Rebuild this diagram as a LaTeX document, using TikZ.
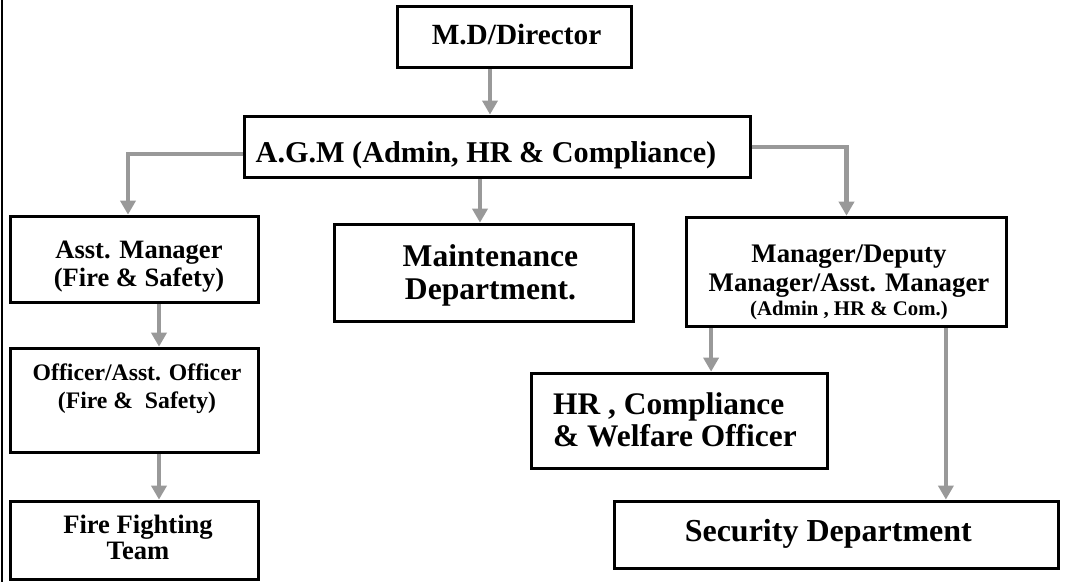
\documentclass[tikz,border=0pt]{standalone}
\usepackage{fontspec}
\usepackage{graphicx}
\setmainfont{Liberation Serif}
\usetikzlibrary{arrows.meta,calc}
\newcommand\txc[4]{\scalebox{1}[#3]{\fontsize{#1bp}{#2bp}\selectfont\bfseries\lineskiplimit=-100bp\vbox{\halign{\hfil##\hfil\cr#4\crcr}}}}
\newcommand\txl[4]{\scalebox{1}[#3]{\fontsize{#1bp}{#2bp}\selectfont\bfseries\lineskiplimit=-100bp\vbox{\halign{##\hfil\cr#4\crcr}}}}
\begin{document}
\begin{tikzpicture}[x=1bp,y=-1bp,
  box/.style={draw=black,line width=3bp,inner sep=0pt},
  lbl/.style={inner sep=0pt,anchor=base},
  arr/.style={draw=black!40,line width=4.5bp,-{Triangle[width=15bp,length=14bp]}}]
\useasboundingbox (0,0) rectangle (1074,582);
\draw[line width=2bp] (2,0) coordinate (bt) -- (2,582) coordinate (bb);
\newcommand\bx[5]{\node[box,minimum width=#4-#2,minimum height=#5-#3] (#1) at ({(#2+#4)/2},{(#3+#5)/2}) {};}
\bx{md}{397}{6}{632}{68}
\bx{agm}{244}{116}{751}{178}
\bx{asst}{10}{216}{259}{303}
\bx{off}{10}{348}{259}{453}
\bx{ff}{10}{501}{259}{580}
\bx{mnt}{334}{224}{634}{322}
\bx{mgr}{686}{217}{1007}{327}
\bx{hr}{531}{373}{828}{469}
\bx{sec}{614}{501}{1059}{569}
\node[lbl] (tmd) at (516.5,44.3) {\txc{29.3}{32}{1}{M.D/Director}};
\node[lbl] (tagm) at (486,163) {\txc{30.2}{33}{1}{A.G.M (Admin, HR \& Compliance)}};
\node[lbl] (tasst) at (139,286.7) {\txc{26.5}{28.3}{1}{Asst. Manager\cr(Fire \& Safety)}};
\node[lbl] (toff) at (137,408.3) {\txc{23.7}{28}{1}{Officer/Asst. Officer\cr(Fire \&\ \ Safety)}};
\node[lbl] (tff) at (138,559) {\txc{26.6}{26}{1}{Fire Fighting\cr Team}};
\node[lbl] (tmnt) at (490.5,300) {\txc{31.6}{33}{1}{Maintenance\cr Department.}};
\node[lbl] (tmgr) at (849,316) {\txc{26.8}{29}{1}{Manager/Deputy\cr Manager/Asst. Manager\cr\noalign{\vskip-5bp}{\fontsize{20.8bp}{24bp}\selectfont(Admin , HR \& Com.)}}};
\node[lbl,anchor=base west] (thr) at (553,446.3) {\txl{31.4}{31.7}{1}{HR , Compliance\cr\& Welfare Officer}};
\node[lbl] (tsec) at (828.3,541.7) {\txc{32}{34}{1}{Security Department}};
\draw[arr] ([xshift=-24.5bp]md.south) -- ([xshift=-24.5bp]md.south |- agm.north);
\draw[arr] ([yshift=-7bp]agm.west) -| ([xshift=-6.5bp]asst.north);
\draw[arr] (agm.east) -| (mgr.north);
\draw[arr] ([xshift=-4bp]mnt.north |- agm.south) -- ([xshift=-4bp]mnt.north);
\draw[arr] ([xshift=24.5bp]asst.south) -- ([xshift=24.5bp]off.north);
\draw[arr] ([xshift=24.5bp]off.south) -- ([xshift=24.5bp]ff.north);
\draw[arr] ([xshift=26bp]mgr.south west) -- ([xshift=26bp]mgr.south west |- hr.north);
\draw[arr] ([xshift=-62bp]mgr.south east) -- ([xshift=-62bp]mgr.south east |- sec.north);
\end{tikzpicture}
\end{document}
